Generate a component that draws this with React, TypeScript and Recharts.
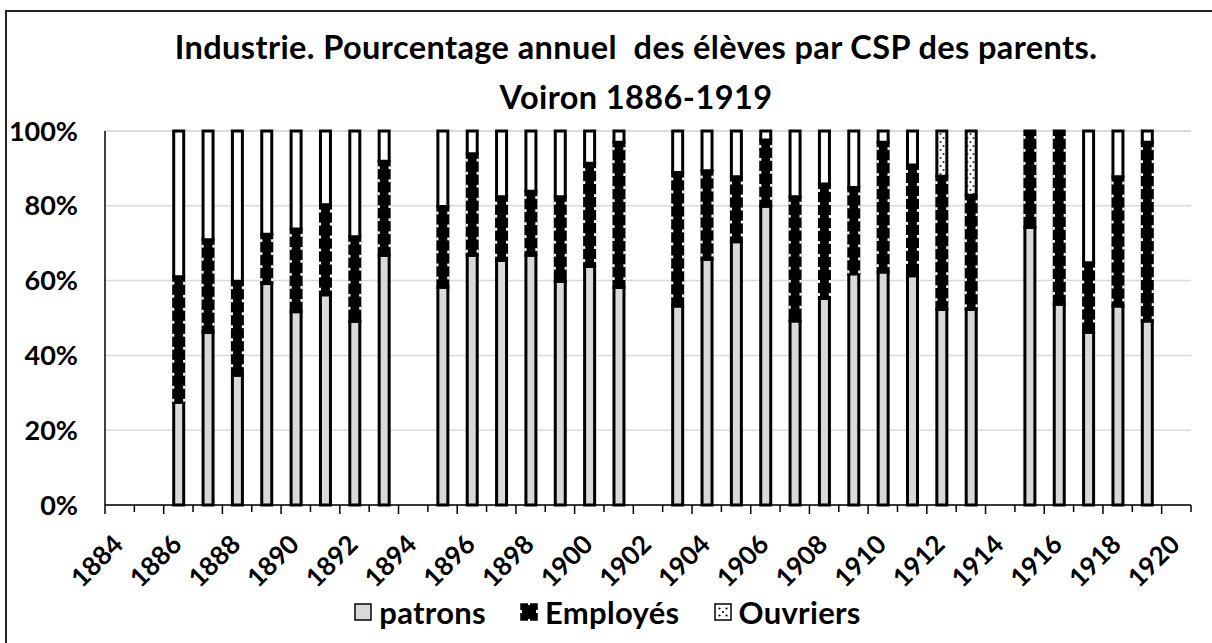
import React from "react";
import { BarChart, Bar, XAxis, YAxis, CartesianGrid, Legend } from "recharts";

// one entry per year on the axis, null where the year has no pupils recorded
const years = [
  "1884", "1885", "1886", "1887", "1888", "1889", "1890", "1891", "1892", "1893",
  "1894", "1895", "1896", "1897", "1898", "1899", "1900", "1901", "1902", "1903",
  "1904", "1905", "1906", "1907", "1908", "1909", "1910", "1911", "1912", "1913",
  "1914", "1915", "1916", "1917", "1918", "1919", "1920",
];

const patrons = [
  null, null, 27.5, 46.2, 34.7, 59.2, 51.7, 56.2, 49.1, 66.8,
  null, 58.2, 66.8, 65.4, 66.8, 59.8, 63.8, 58.2, null, 53.2,
  65.7, 70.4, 79.9, 49.2, 55.2, 61.8, 62.3, 61.3, 52.3, 52.3,
  null, 74.2, 53.7, 46.2, 53.2, 49.2, null,
];

const employes = [
  null, null, 33.5, 24.7, 25.1, 13.2, 22.1, 24.1, 22.6, 25.1,
  null, 21.6, 27.1, 17.0, 17.1, 22.6, 27.6, 38.8, null, 35.7,
  23.7, 17.4, 17.7, 33.2, 30.6, 23.1, 34.7, 29.6, 35.6, 30.5,
  null, 25.8, 46.3, 18.6, 34.6, 47.8, null,
];

const ouvriers = [
  null, null, null, null, null, null, null, null, null, null,
  null, null, null, null, null, null, null, null, null, null,
  null, null, null, null, null, null, null, null, 12.1, 17.2,
  null, null, null, null, null, null, null,
];

// remaining share (white, no legend entry in the original)
const autres = [
  null, null, 39.0, 29.1, 40.2, 27.6, 26.2, 19.7, 28.3, 8.1,
  null, 20.2, 6.1, 17.6, 16.1, 17.6, 8.6, 3.0, null, 11.1,
  10.6, 12.2, 2.4, 17.6, 14.2, 15.1, 3.0, 9.1, null, null,
  null, null, null, 35.2, 12.2, 3.0, null,
];

const yTicks = [0, 20, 40, 60, 80, 100];

const data = years.map((year, i) => ({
  year,
  patrons: patrons[i],
  employes: employes[i],
  ouvriers: ouvriers[i],
  autres: autres[i],
}));

const FONT = "Lato, 'Open Sans', sans-serif";
const W = 1212;
const H = 643;
const M_RIGHT = 21;
const Y_W = 105;
const BAND = (W - Y_W - M_RIGHT) / years.length;

const YearTick = (props: any) => {
  const { x, y, index, payload } = props;
  const half = BAND / 2;
  const major = index % 2 === 0;
  const last = index === years.length - 1;
  const tx = x + 5;
  const ty = y + 41;
  return (
    <g>
      <line x1={x - half} x2={x - half} y1={y} y2={y + (major ? 9 : 7)} stroke="#000" strokeWidth={1.5} />
      {last && <line x1={x + half} x2={x + half} y1={y} y2={y + 7} stroke="#000" strokeWidth={1.5} />}
      {major && (
        <text
          x={tx}
          y={ty}
          transform={`rotate(-45, ${tx}, ${ty})`}
          textAnchor="end"
          fontFamily={FONT}
          fontWeight={700}
          fontSize={26}
          fill="#000"
        >
          {payload.value}
        </text>
      )}
    </g>
  );
};

const EmpShape = (props: any) => {
  const { x, y, width, height } = props;
  if (!height || height <= 0) return null;
  const marks = [];
  for (let yy = y + 5; yy < y + height - 3; yy += 13) {
    marks.push(<rect key={"l" + yy} x={x - 1.6} y={yy} width={2.2} height={2.8} fill="#fff" />);
    marks.push(<rect key={"r" + yy} x={x + width - 0.6} y={yy} width={2.2} height={2.8} fill="#fff" />);
  }
  return (
    <g>
      <rect x={x} y={y} width={width} height={height} fill="#000" stroke="#000" strokeWidth={3} />
      {marks}
    </g>
  );
};

const legendItems = [
  { key: "patrons", label: "patrons" },
  { key: "employes", label: "Employés" },
  { key: "ouvriers", label: "Ouvriers" },
];

const LegendIcon = ({ kind }: { kind: string }) => {
  if (kind === "patrons") {
    return (
      <svg width={18} height={18}>
        <rect x={1} y={1} width={16} height={16} fill="#D9D9D9" stroke="#000" strokeWidth={1.5} />
      </svg>
    );
  }
  if (kind === "employes") {
    return (
      <svg width={18} height={18}>
        <rect x={1} y={1} width={16} height={16} fill="#000" stroke="#000" strokeWidth={1.5} />
        <rect x={0} y={7} width={2} height={3} fill="#fff" />
        <rect x={16} y={7} width={2} height={3} fill="#fff" />
        <rect x={8} y={0} width={2} height={2} fill="#fff" />
        <rect x={8} y={16} width={2} height={2} fill="#fff" />
      </svg>
    );
  }
  return (
    <svg width={18} height={18}>
      <rect x={1} y={1} width={16} height={16} fill="#fff" stroke="#000" strokeWidth={1.5} />
      <circle cx={5.5} cy={5.5} r={1.1} fill="#000" />
      <circle cx={12.5} cy={5.5} r={1.1} fill="#000" />
      <circle cx={9} cy={9} r={1.1} fill="#000" />
      <circle cx={5.5} cy={12.5} r={1.1} fill="#000" />
      <circle cx={12.5} cy={12.5} r={1.1} fill="#000" />
    </svg>
  );
};

const LegendContent = () => (
  <div
    style={{
      height: 40,
      display: "flex",
      justifyContent: "center",
      alignItems: "center",
      fontFamily: FONT,
      fontWeight: 700,
      fontSize: 31,
      letterSpacing: 0.3,
      color: "#000",
      paddingLeft: 24,
    }}
  >
    {legendItems.map((it) => (
      <div key={it.key} style={{ display: "flex", alignItems: "center", margin: "0 17px" }}>
        <LegendIcon kind={it.key} />
        <span style={{ marginLeft: 7 }}>{it.label}</span>
      </div>
    ))}
  </div>
);

export default function App() {
  return (
    <div style={{ position: "fixed", left: 0, top: 0, width: W, height: H, overflow: "hidden", background: "#fff" }}>
      <div
        style={{
          position: "absolute",
          left: 5,
          top: 10,
          width: 1240,
          height: 660,
          borderLeft: "2px solid #222",
          borderTop: "2px solid #222",
        }}
      />
      <div
        style={{
          position: "absolute",
          left: 0,
          top: 22,
          width: 1272,
          textAlign: "center",
          fontFamily: FONT,
          fontWeight: 700,
          fontSize: 32.5,
          letterSpacing: 0.4,
          lineHeight: "50px",
          color: "#000",
          whiteSpace: "pre",
        }}
      >
        {"Industrie. Pourcentage annuel  des élèves par CSP des parents.\nVoiron 1886-1919"}
      </div>
      <BarChart
        width={W}
        height={H}
        data={data}
        margin={{ top: 131, right: M_RIGHT, left: 0, bottom: 11 }}
        barSize={10}
        style={{ position: "absolute", left: 0, top: 0 }}
      >
        <defs>
          <pattern id="dots" width={6} height={8} patternUnits="userSpaceOnUse">
            <rect width={6} height={8} fill="#fff" />
            <circle cx={1.5} cy={2} r={1.1} fill="#333" />
            <circle cx={4.5} cy={6} r={1.1} fill="#333" />
          </pattern>
        </defs>
        <CartesianGrid vertical={false} stroke="#D9D9D9" strokeWidth={1.5} />
        <XAxis
          dataKey="year"
          interval={0}
          height={87}
          tickSize={0}
          tickMargin={0}
          tickLine={false}
          tick={<YearTick />}
          axisLine={{ stroke: "#000", strokeWidth: 1.5 }}
        />
        <XAxis
          xAxisId="top"
          dataKey="year"
          orientation="top"
          height={0}
          tick={false}
          tickLine={false}
          axisLine={{ stroke: "#000", strokeWidth: 1.5 }}
        />
        <YAxis
          domain={[0, 100]}
          ticks={yTicks}
          width={Y_W}
          tickSize={0}
          tickMargin={27}
          tickLine={false}
          tickFormatter={(v: number) => `${v}%`}
          tick={{ fontFamily: FONT, fontWeight: 700, fontSize: 27, fill: "#000" }}
          axisLine={{ stroke: "#000", strokeWidth: 1.5 }}
        />
        <YAxis
          yAxisId="r"
          orientation="right"
          width={0}
          domain={[0, 100]}
          tick={false}
          tickLine={false}
          axisLine={{ stroke: "#000", strokeWidth: 1.5 }}
        />
        <Bar dataKey="patrons" name="patrons" stackId="a" fill="#D9D9D9" stroke="#000" strokeWidth={3} isAnimationActive={false} />
        <Bar dataKey="employes" name="Employés" stackId="a" fill="#000" shape={<EmpShape />} isAnimationActive={false} />
        <Bar dataKey="ouvriers" name="Ouvriers" stackId="a" fill="url(#dots)" stroke="#000" strokeWidth={3} isAnimationActive={false} />
        <Bar dataKey="autres" name="autres" stackId="a" fill="#fff" stroke="#000" strokeWidth={3} legendType="none" isAnimationActive={false} />
        <Legend verticalAlign="bottom" align="center" content={<LegendContent />} />
      </BarChart>
    </div>
  );
}
